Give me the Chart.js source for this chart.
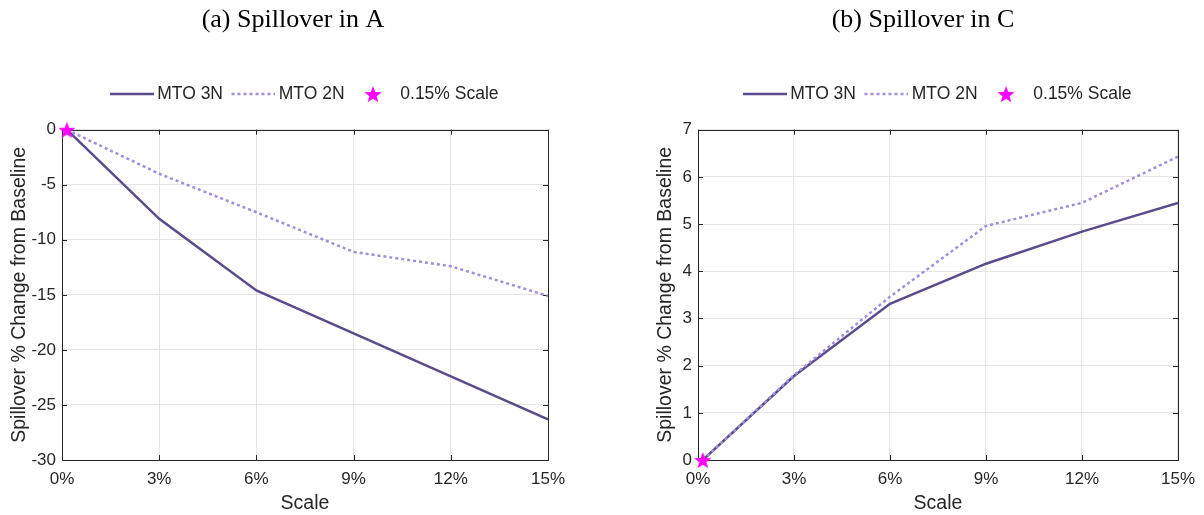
<!DOCTYPE html>
<html>
<head>
<meta charset="utf-8">
<script src="https://cdn.jsdelivr.net/npm/chart.js@4"></script>
<style>
body { margin: 0; background: #fff; width: 1204px; height: 515px; position: relative; overflow: hidden; }
.box { position: absolute; top: 0; height: 515px; }
</style>
</head>
<body>
<div class="box" style="left:0;width:600px"><canvas id="chartA"></canvas></div>
<div class="box" style="left:650px;width:554px"><canvas id="chartC"></canvas></div>
<script>
// scale levels (%) and spillover % change from baseline
const scalePct = [0.15, 3, 6, 9, 12, 15];
const mto3nA = [0, -8.1, -14.6, -18.5, -22.4, -26.3];
const mto2nA = [0, -4.0, -7.5, -11.1, -12.4, -15.1];
const mto3nC = [0, 1.78, 3.31, 4.16, 4.84, 5.45];
const mto2nC = [0, 1.80, 3.46, 4.96, 5.45, 6.43];
const starX = [0.15];
const starY = [0];
const seriesNames = ['MTO 3N', 'MTO 2N', '0.15% Scale'];

const dark = '#5b4a8c';
const light = '#a08ddc';
const magenta = '#ff00ff';
const textCol = '#262626';
const sans = "'Liberation Sans', Arial, sans-serif";

function lineIcon(color, dash) {
    const c = document.createElement('canvas');
    c.width = 48; c.height = 6;
    const g = c.getContext('2d');
    g.strokeStyle = color;
    g.lineWidth = 2.5;
    g.setLineDash(dash);
    g.beginPath(); g.moveTo(4, 3); g.lineTo(48, 3); g.stroke();
    return c;
}
function starIcon(size) {
    const c = document.createElement('canvas');
    c.width = size; c.height = size;
    const g = c.getContext('2d');
    const r = size / 2, ri = r * 0.42;
    g.fillStyle = magenta;
    g.beginPath();
    for (let i = 0; i < 10; i++) {
        const a = -Math.PI / 2 + i * Math.PI / 5;
        const rr = i % 2 ? ri : r;
        g.lineTo(r + rr * Math.cos(a), r + 1 + rr * Math.sin(a));
    }
    g.closePath(); g.fill();
    return c;
}
const solidIcon = lineIcon(dark, []);
const dotIcon = lineIcon(light, [3, 3]);
const star = starIcon(18);

// box around the plot with inward ticks, matlab style
const frame = {
    id: 'frame',
    beforeDatasetsDraw(chart) {
        const {ctx, chartArea: a, scales} = chart;
        ctx.save();
        ctx.strokeStyle = '#262626';
        ctx.lineWidth = 1;
        scales.x.ticks.forEach(t => {
            const px = Math.round(scales.x.getPixelForValue(t.value)) + 0.5;
            ctx.beginPath();
            ctx.moveTo(px, a.bottom); ctx.lineTo(px, a.bottom - 5);
            ctx.moveTo(px, a.top); ctx.lineTo(px, a.top + 5);
            ctx.stroke();
        });
        scales.y.ticks.forEach(t => {
            const py = Math.round(scales.y.getPixelForValue(t.value)) + 0.5;
            ctx.beginPath();
            ctx.moveTo(a.left, py); ctx.lineTo(a.left + 5, py);
            ctx.moveTo(a.right, py); ctx.lineTo(a.right - 5, py);
            ctx.stroke();
        });
        ctx.strokeRect(Math.round(a.left) + 0.5, Math.round(a.top) + 0.5,
            Math.round(a.right - a.left), Math.round(a.bottom - a.top));
        ctx.restore();
    }
};

// extra room under the legend and a small nudge of the title
const spacing = {
    id: 'spacing',
    beforeLayout(chart, args, opts) {
        const lg = chart.legend;
        if (lg && !lg._padded) {
            const fit = lg.fit.bind(lg);
            lg.fit = function () { fit(); this.height += opts.legendGap; };
            lg._padded = true;
        }
    },
    afterLayout(chart, args, opts) {
        if (chart.titleBlock) chart.titleBlock.left -= opts.titleShift;
    }
};

function makeChart(id, title, s3, s2, yMin, yMax, yStep, yWidth, padLeft, padRight, titleShift) {
    const ctx = document.getElementById(id).getContext('2d');
    return new Chart(ctx, {
        type: 'line',
        data: {
            datasets: [
                {
                    label: seriesNames[0],
                    data: scalePct.map((x, i) => ({x: x, y: s3[i]})),
                    borderColor: dark, borderWidth: 2.5,
                    pointRadius: 0, order: 3
                },
                {
                    label: seriesNames[1],
                    data: scalePct.map((x, i) => ({x: x, y: s2[i]})),
                    borderColor: light, borderWidth: 2.5, borderDash: [3, 3],
                    pointRadius: 0, order: 2
                },
                {
                    label: seriesNames[2],
                    data: starX.map((x, i) => ({x: x, y: starY[i]})),
                    showLine: false, pointStyle: star, pointRadius: 9,
                    borderColor: magenta, backgroundColor: magenta, order: 1,
                    clip: false
                }
            ]
        },
        options: {
            responsive: true,
            maintainAspectRatio: false,
            animation: false,
            layout: { padding: { left: padLeft, right: padRight, top: 0, bottom: 0 } },
            plugins: {
                tooltip: { enabled: false },
                spacing: { legendGap: 17, titleShift: titleShift },
                title: {
                    display: true, text: title, fullSize: false,
                    color: '#000',
                    font: { family: "'Liberation Serif', 'Times New Roman', serif", size: 26, weight: 'normal' },
                    padding: { top: 5, bottom: 39 }
                },
                legend: {
                    fullSize: false,
                    labels: {
                        usePointStyle: true,
                        pointStyleWidth: 37,
                        padding: 10,
                        color: textCol,
                        font: { family: sans, size: 17.5 },
                        generateLabels: () => [
                            { text: seriesNames[0], pointStyle: solidIcon, fontColor: textCol, lineWidth: 0, strokeStyle: 'transparent', fillStyle: 'transparent' },
                            { text: seriesNames[1], pointStyle: dotIcon, fontColor: textCol, lineWidth: 0, strokeStyle: 'transparent', fillStyle: 'transparent' },
                            { text: seriesNames[2], pointStyle: star, fontColor: textCol, lineWidth: 0, strokeStyle: 'transparent', fillStyle: 'transparent' }
                        ]
                    }
                }
            },
            scales: {
                x: {
                    type: 'linear', min: 0, max: 15,
                    afterFit: s => { s.height = 55; },
                    border: { display: false },
                    grid: { color: '#e4e4e4', drawTicks: false },
                    ticks: {
                        stepSize: 3, padding: 9, color: textCol,
                        font: { family: sans, size: 17 },
                        callback: v => v + '%'
                    },
                    title: {
                        display: true, text: 'Scale', color: textCol,
                        font: { family: sans, size: 19.5 },
                        padding: { top: 0, bottom: 0 }
                    }
                },
                y: {
                    min: yMin, max: yMax,
                    afterFit: s => { s.width = yWidth; },
                    border: { display: false },
                    grid: { color: '#e4e4e4', drawTicks: false },
                    ticks: {
                        stepSize: yStep, padding: 6, color: textCol,
                        font: { family: sans, size: 17 }
                    },
                    title: {
                        display: true, text: 'Spillover % Change from Baseline', color: textCol,
                        font: { family: sans, size: 19.5 },
                        padding: { top: 4, bottom: 4 }
                    }
                }
            }
        },
        plugins: [frame, spacing]
    });
}

window.addEventListener('load', () => {
    makeChart('chartA', '(a) Spillover in A', mto3nA, mto2nA, -30, 0, 5, 58, 4, 52, 24);
    makeChart('chartC', '(b) Spillover in C', mto3nC, mto2nC, 0, 7, 1, 48, 0, 21, 30);
});
</script>
</body>
</html>
